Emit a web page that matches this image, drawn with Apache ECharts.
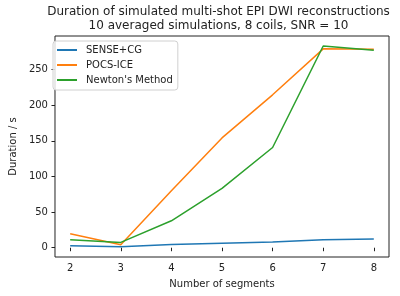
<!DOCTYPE html>
<html>
<head>
<meta charset="utf-8">
<script src="https://cdn.jsdelivr.net/npm/echarts@6/dist/echarts.min.js"></script>
<style>
  html, body { margin: 0; padding: 0; background: #fff; }
  #chart { width: 400px; height: 296px; }
</style>
</head>
<body>
<div id="chart"></div>
<script>
  // number of segments on x
  var segments = [2, 3, 4, 5, 6, 7, 8]
  // durations in seconds
  var senseCG = [2.8, 1.4, 4.5, 6.2, 8.0, 11.2, 12.2]
  var pocsICE = [19.6, 4.2, 80, 154, 214.5, 279, 278.5]
  var newton = [11.2, 7.5, 37.8, 83.2, 140.6, 283, 277]
  var yTicks = [0, 50, 100, 150, 200, 250]
  var titleLines = [
    'Duration of simulated multi-shot EPI DWI reconstructions',
    '10 averaged simulations, 8 coils, SNR = 10'
  ]

  var font = 'DejaVu Sans'
  var ink = '#222'

  function pairs(ys) {
    return segments.map(function (x, i) { return [x, ys[i]] })
  }

  // title centred over the plot area, one text per line
  var titleGraphics = titleLines.map(function (line, i) {
    return {
      type: 'text',
      x: 218.5,
      y: 6 + i * 14,
      style: {
        text: line,
        font: '12px "DejaVu Sans"',
        fill: ink,
        align: 'center',
        verticalAlign: 'top'
      }
    }
  })

  var myChart = echarts.init(document.getElementById('chart'), null, {renderer: 'canvas'})
  myChart.setOption({
    animation: false,
    color: ['#1f77b4', '#ff7f0e', '#2ca02c'],
    graphic: titleGraphics,
    legend: {
      data: ['SENSE+CG', 'POCS-ICE', "Newton's Method"],
      orient: 'vertical',
      left: 53,
      top: 41,
      padding: [3, 5, 4, 4],
      itemGap: 3,
      itemWidth: 20,
      itemHeight: 2,
      icon: 'rect',
      borderColor: '#d0d0d0',
      borderWidth: 1,
      borderRadius: 3,
      backgroundColor: 'rgba(255,255,255,0.8)',
      textStyle: {
        fontFamily: font,
        fontSize: 10,
        color: ink,
        lineHeight: 12,
        padding: [0, 0, 0, 4]
      }
    },
    grid: {
      left: 48,
      right: 11,
      top: 36,
      bottom: 39,
      show: true,
      borderColor: ink,
      borderWidth: 1
    },
    xAxis: {
      type: 'value',
      min: 1.7,
      max: 8.3,
      name: 'Number of segments',
      nameLocation: 'middle',
      nameGap: 22,
      nameTextStyle: {fontFamily: font, fontSize: 10, color: ink},
      axisLine: {show: false},
      axisTick: {
        show: true,
        length: 3.5,
        lineStyle: {color: ink},
        customValues: segments
      },
      axisLabel: {
        fontFamily: font,
        fontSize: 10,
        color: ink,
        margin: 6,
        customValues: segments
      },
      splitLine: {show: false}
    },
    yAxis: {
      type: 'value',
      min: -13,
      max: 297,
      name: 'Duration / s',
      nameLocation: 'middle',
      nameRotate: 90,
      nameGap: 30,
      nameTextStyle: {fontFamily: font, fontSize: 10, color: ink},
      axisLine: {show: false},
      axisTick: {
        show: true,
        length: 3.5,
        lineStyle: {color: ink},
        customValues: yTicks
      },
      axisLabel: {
        fontFamily: font,
        fontSize: 10,
        color: ink,
        margin: 7,
        customValues: yTicks
      },
      splitLine: {show: false}
    },
    series: [{
      name: 'SENSE+CG',
      type: 'line',
      data: pairs(senseCG),
      showSymbol: false,
      lineStyle: {width: 1.5}
    }, {
      name: 'POCS-ICE',
      type: 'line',
      data: pairs(pocsICE),
      showSymbol: false,
      lineStyle: {width: 1.5}
    }, {
      name: "Newton's Method",
      type: 'line',
      data: pairs(newton),
      showSymbol: false,
      lineStyle: {width: 1.5}
    }]
  })
</script>
</body>
</html>
